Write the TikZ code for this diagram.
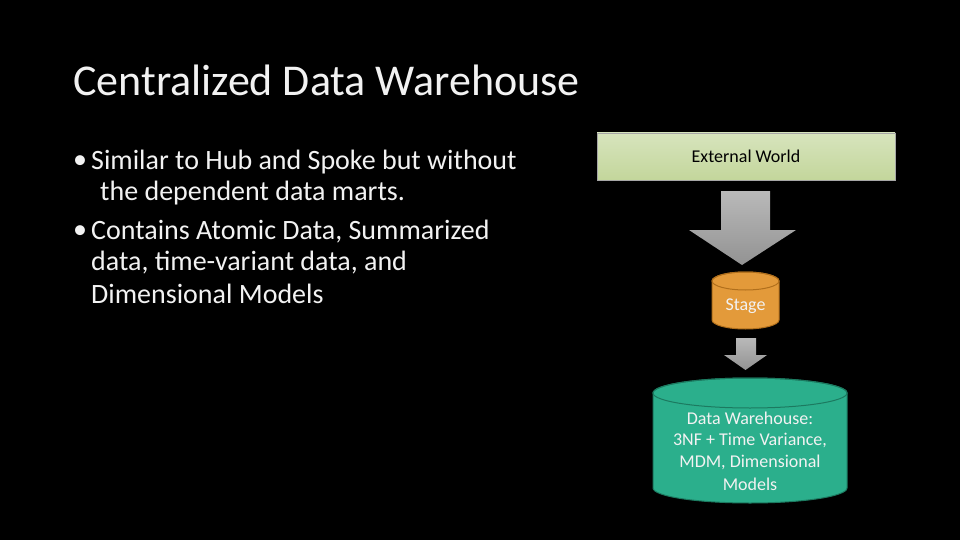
\documentclass[tikz,border=0pt]{standalone}
\usepackage{fontspec}
\setmainfont{Carlito}
\definecolor{grn1}{HTML}{D7E4BD}
\definecolor{grn2}{HTML}{C3D69B}
\definecolor{org}{HTML}{E39A3A}
\definecolor{orgd}{HTML}{B06F1C}
\definecolor{teal}{HTML}{2BAF8C}
\definecolor{teald}{HTML}{1C7A60}
\definecolor{txt}{HTML}{F2F2F2}
\newcommand\mycyl[6]{% x0,x1,ytop,ybot,ry,style
  \pgfmathsetmacro\rx{(#2-#1)/2}
  \path[#6] (#1,#3+#5) -- (#1,#4-#5) arc[start angle=180,end angle=0,x radius=\rx,y radius=#5] -- (#2,#3+#5) arc[start angle=0,end angle=-180,x radius=\rx,y radius=#5] -- cycle;
  \path[#6,fill=none] ({(#1+#2)/2},#3+#5) ellipse[x radius=\rx,y radius=#5];
}
\tikzset{
  arr/.style={draw=none, top color=gray!55, bottom color=gray!85},
  bul/.style={anchor=west, text=txt, font=\fontsize{28}{34}\selectfont, inner sep=0},
  lbl/.style={text=txt, font=\fontsize{18}{22}\selectfont, inner sep=0}
}
\begin{document}
\begin{tikzpicture}[x=1pt,y=-1pt]
\fill[black] (0,0) rectangle (960,540);
\useasboundingbox (0,0) rectangle (960,540);
\node[anchor=west, text=txt, font=\fontsize{44}{44}\selectfont, inner sep=0] (title) at (73,80) {Centralized Data Warehouse};
\node[bul] (b1) at (73,162) {•};
\node[bul] (l1) at (91,162) {Similar to Hub and Spoke but without};
\node[bul] (l2) at (100,193) {the dependent data marts.};
\node[bul] (b2) at (73,232) {•};
\node[bul] (l3) at (91,232) {Contains Atomic Data, Summarized};
\node[bul] (l4) at (91,263) {data, time-variant data, and};
\node[bul] (l5) at (91,294) {Dimensional Models};
\node[draw=gray!70, top color=grn1, bottom color=grn2, minimum width=298, minimum height=47, font=\fontsize{18}{22}\selectfont, text=black] (ext) at (746,156.5) {External World};
\path[arr] (721,191) -- (770,191) -- (770,230) -- (796,230) -- (742,265) -- (689,230) -- (721,230) -- cycle;
\mycyl{712}{779}{272}{329}{9}{draw=orgd,fill=org,line width=1pt}
\node[lbl] (stage) at (745.5,306) {Stage};
\path[arr] (736,338) -- (756,338) -- (756,355) -- (767,355) -- (745.5,370) -- (724,355) -- (736,355) -- cycle;
\mycyl{653}{847}{378}{503}{15}{draw=teald,fill=teal,line width=1pt}
\node[lbl] (d1) at (750,418) {Data Warehouse:};
\node[lbl] (d2) at (750,440) {3NF + Time Variance,};
\node[lbl] (d3) at (750,462) {MDM, Dimensional};
\node[lbl] (d4) at (750,484) {Models};
\end{tikzpicture}
\end{document}
